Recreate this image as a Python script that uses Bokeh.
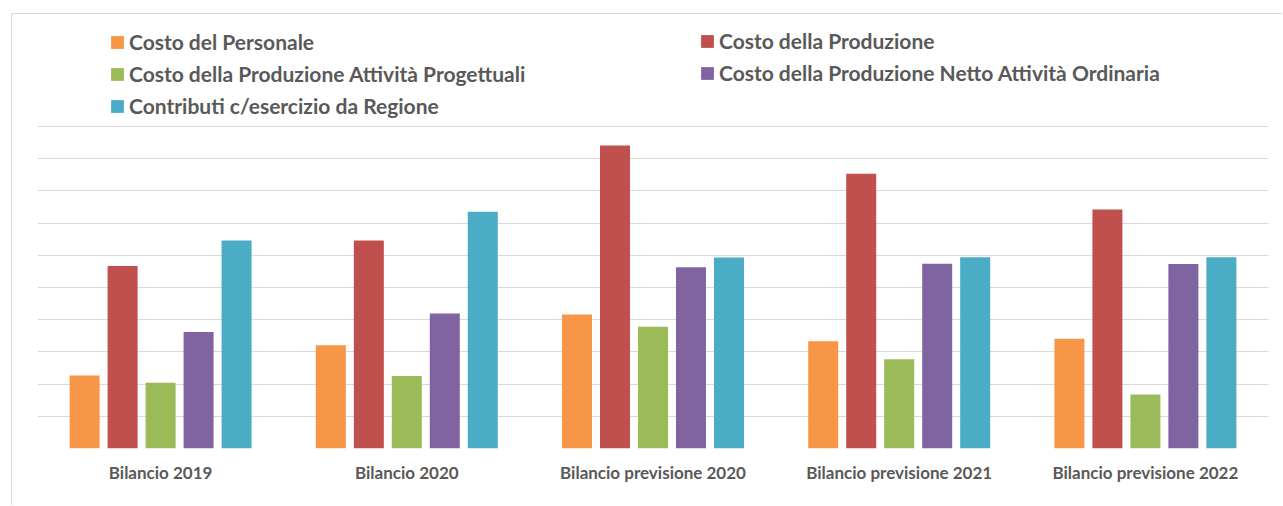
from bokeh.plotting import figure
from bokeh.models import FactorRange, Range1d, FixedTicker, Legend, LegendItem, ColumnDataSource
from bokeh.transform import dodge
from bokeh.embed import file_html
from bokeh.resources import INLINE

categories = ["Bilancio 2019", "Bilancio 2020", "Bilancio previsione 2020",
              "Bilancio previsione 2021", "Bilancio previsione 2022"]
series_names = ["Costo del Personale", "Costo della Produzione",
                "Costo della Produzione Attività Progettuali",
                "Costo della Produzione Netto Attività Ordinaria",
                "Contributi c/esercizio da Regione"]
personale = [2.27, 3.21, 4.16, 3.33, 3.41]
produzione = [5.67, 6.46, 9.41, 8.53, 7.42]
progettuali = [2.04, 2.25, 3.78, 2.77, 1.68]
netto = [3.62, 4.19, 5.63, 5.74, 5.73]
contributi = [6.46, 7.35, 5.93, 5.94, 5.94]
grid_values = list(range(11))

colors = ["#F79646", "#C0504D", "#9BBB59", "#8064A2", "#4BACC6"]

source = ColumnDataSource(dict(cat=categories, s0=personale, s1=produzione,
                               s2=progettuali, s3=netto, s4=contributi))

p = figure(width=1271, height=492,
           x_range=FactorRange(factors=categories, range_padding=0),
           y_range=Range1d(0, 13.48),
           output_backend="svg", toolbar_location=None,
           min_border_left=25, min_border_right=15,
           min_border_top=0, min_border_bottom=58)
p.margin = (13, 0, 0, 11)
p.styles = {"border-left": "1px solid #d9d9d9", "border-top": "1px solid #d9d9d9"}
p.outline_line_color = None
p.background_fill_color = "white"
p.border_fill_color = "white"

pitch = 0.1543
bw = 0.1219
renderers = []
for i in range(5):
    r = p.vbar(x=dodge("cat", (i - 2) * pitch, range=p.x_range), top=f"s{i}",
               width=bw, source=source, fill_color=colors[i], line_color=None)
    renderers.append(r)

p.yaxis.visible = False
p.ygrid.ticker = FixedTicker(ticks=grid_values)
p.ygrid.grid_line_color = "#d9d9d9"
p.ygrid.grid_line_width = 1
p.xgrid.grid_line_color = None

xa = p.xaxis[0]
xa.axis_line_color = None
xa.major_tick_line_color = None
xa.minor_tick_line_color = None
xa.major_label_text_font = "Lato"
xa.major_label_text_font_style = "bold"
xa.major_label_text_font_size = "17px"
xa.major_label_text_color = "#595959"
xa.major_label_standoff = 7

def make_legend(idx, loc):
    items = [LegendItem(label=series_names[k], renderers=[renderers[k]]) for k in idx]
    lg = Legend(items=items, location=loc, orientation="vertical",
                glyph_width=16, glyph_height=16, label_standoff=4,
                spacing=7, padding=0, margin=0,
                label_text_font="Lato", label_text_font_style="bold",
                label_text_font_size="21px", label_text_color="#595959",
                border_line_color=None, background_fill_alpha=0)
    return lg

leg1 = make_legend([0, 2, 4], (72, 329.8))
leg2 = make_legend([1, 3], (662, 362.8))
p.add_layout(leg1)
p.add_layout(leg2)

open("out.html", "w").write(file_html(p, INLINE))
